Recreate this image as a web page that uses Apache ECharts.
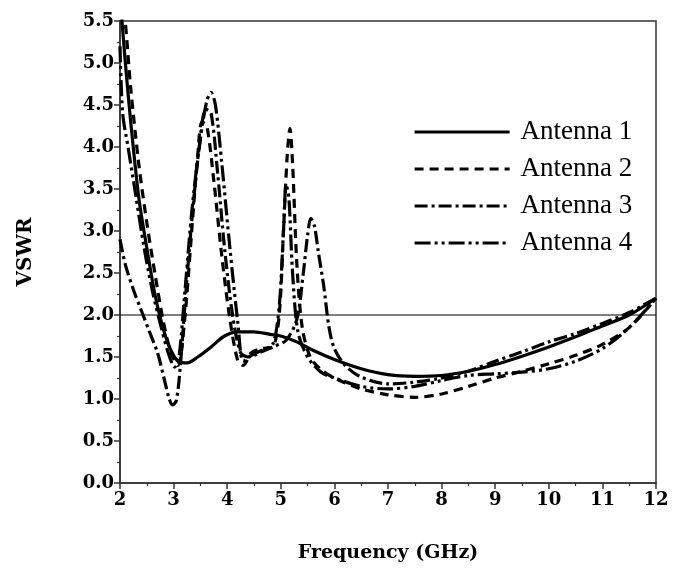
<!DOCTYPE html>
<html>
<head>
<meta charset="utf-8">
<script src="https://cdn.jsdelivr.net/npm/echarts@6/dist/echarts.min.js"></script>
<style>
html,body{margin:0;padding:0;background:#fff;}
#c{width:679px;height:574px;}
</style>
</head>
<body>
<div id="c"></div>
<script>
// ---- data ----
const seriesNames = ["Antenna 1", "Antenna 2", "Antenna 3", "Antenna 4"];

const freqA1 = [2.0, 2.1, 2.2, 2.35, 2.5, 2.65, 2.8, 2.95, 3.1, 3.25, 3.45, 3.7, 3.95, 4.2, 4.5, 4.8, 5.0, 5.3, 5.6, 6.0, 6.5, 7.0, 7.5, 8.0, 8.5, 9.0, 9.5, 10.0, 10.5, 11.0, 11.5, 12.0];
const vswrA1 = [5.8, 5.0, 4.3, 3.4, 2.8, 2.25, 1.85, 1.58, 1.44, 1.43, 1.5, 1.62, 1.75, 1.8, 1.8, 1.77, 1.75, 1.68, 1.58, 1.47, 1.36, 1.29, 1.27, 1.28, 1.33, 1.41, 1.51, 1.62, 1.74, 1.87, 2.0, 2.2];

const freqA2 = [2.0, 2.08, 2.2, 2.35, 2.5, 2.65, 2.8, 2.95, 3.08, 3.2, 3.35, 3.45, 3.53, 3.62, 3.75, 3.9, 4.05, 4.2, 4.3, 4.45, 4.65, 4.85, 4.97, 5.05, 5.12, 5.17, 5.22, 5.3, 5.4, 5.55, 5.75, 6.0, 6.5, 7.0, 7.5, 8.0, 8.5, 9.0, 9.5, 10.0, 10.5, 11.0, 11.5, 12.0];
const vswrA2 = [5.8, 5.6, 4.7, 3.8, 3.1, 2.5, 1.95, 1.55, 1.4, 1.9, 3.1, 3.9, 4.3, 4.25, 3.6, 2.7, 1.95, 1.45, 1.4, 1.55, 1.6, 1.62, 2.0, 3.0, 3.9, 4.22, 3.8, 2.6, 1.85, 1.5, 1.35, 1.25, 1.12, 1.05, 1.02, 1.06, 1.15, 1.25, 1.33, 1.42, 1.52, 1.65, 1.85, 2.2];

const freqA3 = [2.0, 2.1, 2.25, 2.4, 2.55, 2.7, 2.82, 2.92, 2.98, 3.05, 3.12, 3.22, 3.35, 3.48, 3.6, 3.7, 3.82, 3.95, 4.1, 4.25, 4.4, 4.6, 4.85, 5.1, 5.3, 5.42, 5.5, 5.56, 5.63, 5.7, 5.8, 5.9, 6.0, 6.2, 6.5, 7.0, 7.5, 8.0, 8.5, 9.0, 9.5, 10.0, 10.5, 11.0, 11.5, 12.0];
const vswrA3 = [2.9, 2.6, 2.3, 2.05, 1.8, 1.55, 1.25, 1.0, 0.93, 0.98, 1.35, 2.2, 3.2, 4.0, 4.45, 4.4, 3.7, 2.8, 2.0, 1.55, 1.5, 1.55, 1.62, 1.7, 1.95, 2.5, 2.95, 3.15, 3.05, 2.75, 2.35, 1.85, 1.6, 1.4, 1.26, 1.18, 1.2, 1.25, 1.33, 1.45, 1.56, 1.68, 1.78, 1.9, 2.03, 2.2];

const freqA4 = [2.0, 2.05, 2.15, 2.3, 2.45, 2.6, 2.75, 2.9, 3.02, 3.1, 3.2, 3.35, 3.5, 3.62, 3.7, 3.78, 3.9, 4.05, 4.2, 4.3, 4.45, 4.65, 4.85, 4.97, 5.05, 5.1, 5.15, 5.22, 5.32, 5.5, 5.75, 6.0, 6.5, 7.0, 7.5, 8.0, 8.5, 9.0, 9.5, 10.0, 10.5, 11.0, 11.5, 12.0];
const vswrA4 = [5.2, 4.4, 4.0, 3.4, 2.8, 2.3, 1.9, 1.55, 1.38, 1.5, 2.2, 3.3, 4.1, 4.55, 4.65, 4.5, 3.8, 2.8, 1.9, 1.45, 1.52, 1.58, 1.65, 2.1, 3.0, 3.55, 3.4, 2.5, 1.8, 1.5, 1.32, 1.25, 1.15, 1.12, 1.15, 1.22, 1.28, 1.3, 1.32, 1.36, 1.45, 1.6, 1.85, 2.2];

const refLineValue = 2.0;
const xRange = [2, 12];

// ---- build ----
const pair = (xs, ys) => xs.map((x, i) => [x, ys[i]]);
const dashTypes = ["solid", [9, 6], [13, 4, 3, 4], [16, 4, 3, 4, 3, 4]];
const allData = [pair(freqA1, vswrA1), pair(freqA2, vswrA2), pair(freqA3, vswrA3), pair(freqA4, vswrA4)];

const series = allData.map((d, i) => ({
  name: seriesNames[i],
  type: 'line',
  data: d,
  symbol: 'none',
  showSymbol: false,
  smooth: 0.3,
  clip: true,
  lineStyle: { color: '#000', width: 3.2, type: dashTypes[i] },
  itemStyle: { color: '#000' },
  z: 3
}));
series.push({
  name: 'ref',
  type: 'line',
  data: [[xRange[0], refLineValue], [xRange[1], refLineValue]],
  symbol: 'none',
  lineStyle: { color: '#000', width: 1.2 },
  silent: true,
  z: 2
});

const chart = echarts.init(document.getElementById('c'), null, { renderer: 'canvas' });
const tickFont = { fontFamily: 'DejaVu Serif', fontWeight: 'bold', fontSize: 18, color: '#000' };
chart.setOption({
  animation: false,
  backgroundColor: '#fff',
  grid: { left: 120, right: 23, top: 21, bottom: 91, show: true, borderColor: '#333', borderWidth: 1.5, backgroundColor: 'transparent' },
  legend: {
    data: seriesNames,
    orient: 'vertical',
    left: 408,
    top: 112,
    itemWidth: 95,
    itemHeight: 10,
    itemGap: 7,
    itemStyle: { opacity: 0 },
    lineStyle: { width: 3.2 },
    textStyle: { fontFamily: 'Liberation Serif', fontSize: 27, color: '#000', lineHeight: 30, padding: [0, 0, 0, 6] }
  },
  xAxis: {
    type: 'value', min: xRange[0], max: xRange[1], interval: 1,
    name: 'Frequency (GHz)', nameLocation: 'middle', nameGap: 61,
    nameTextStyle: { fontFamily: 'DejaVu Serif', fontWeight: 'bold', fontSize: 19, color: '#000' },
    axisLine: { lineStyle: { color: '#333', width: 1.5 } },
    axisTick: { show: true, inside: false, length: 6, lineStyle: { color: '#333', width: 1.5 } },
    minorTick: { show: true, splitNumber: 2, length: 3, lineStyle: { color: '#333', width: 1.2 } },
    axisLabel: Object.assign({ margin: 8 }, tickFont),
    splitLine: { show: false }
  },
  yAxis: {
    type: 'value', min: 0, max: 5.5, interval: 0.5,
    name: 'VSWR', nameLocation: 'middle', nameGap: 84, nameRotate: 90,
    nameTextStyle: { fontFamily: 'DejaVu Serif', fontWeight: 'bold', fontSize: 20, color: '#000' },
    axisLine: { lineStyle: { color: '#333', width: 1.5 } },
    axisTick: { show: true, inside: false, length: 6, lineStyle: { color: '#333', width: 1.5 } },
    minorTick: { show: true, splitNumber: 2, length: 3, lineStyle: { color: '#333', width: 1.2 } },
    axisLabel: Object.assign({ margin: 6, formatter: v => v.toFixed(1) }, tickFont),
    splitLine: { show: false }
  },
  series: series
});
</script>
</body>
</html>
